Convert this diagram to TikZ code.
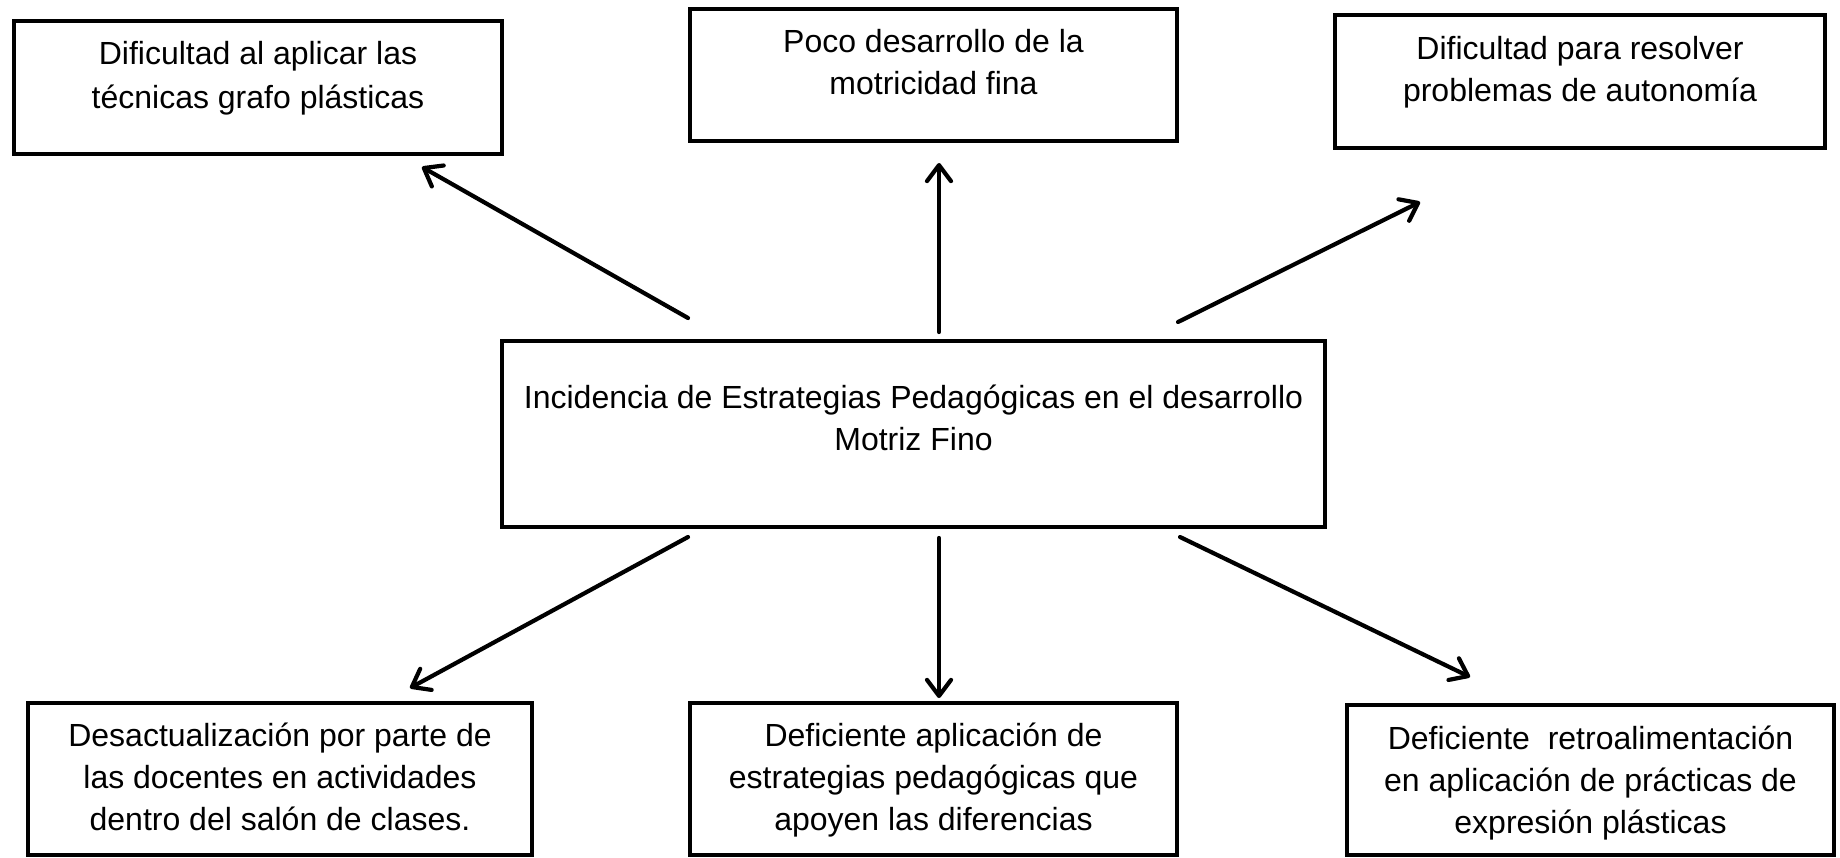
\documentclass[tikz,border=0pt]{standalone}
\usepackage{fontspec}
\setmainfont{Liberation Sans}
\usetikzlibrary{arrows.meta,shadows}

\tikzset{
  caja/.style={draw, line width=2.25pt, fill=white, inner sep=0pt,
    drop shadow={shadow xshift=1pt, shadow yshift=-1pt, opacity=0.25}},
  texto/.style={align=center, inner sep=0pt, anchor=north, font=\fontsize{16}{21}\selectfont},
  flecha/.style={line width=2.1pt, line cap=round, -{Straight Barb[length=8pt,width=12pt,round]}}
}

\begin{document}
\begin{tikzpicture}[x=0.5pt, y=-0.5pt]
    \useasboundingbox (0,0) rectangle (1840,857);

    % Cajas
    \node[caja, minimum width=244pt, minimum height=66.5pt] (tl) at (258,87.5) {};
    \node[caja, minimum width=243.5pt, minimum height=66pt] (tm) at (933.5,75) {};
    \node[caja, minimum width=245pt, minimum height=66.5pt] (tr) at (1580,81.5) {};
    \node[caja, minimum width=411.5pt, minimum height=93pt] (centro) at (913.5,434) {};
    \node[caja, minimum width=252pt, minimum height=76pt] (bl) at (280,779) {};
    \node[caja, minimum width=243.5pt, minimum height=76pt] (bm) at (933.5,779) {};
    \node[caja, minimum width=243.5pt, minimum height=75pt] (br) at (1590.5,780) {};

    % Textos
    \node[texto, yshift=-11.3pt, font=\fontsize{16}{22}\selectfont] (tx-tl) at (tl.north) {Dificultad al aplicar las\\técnicas grafo plásticas};
    \node[texto, yshift=-11pt] (tx-tm) at (tm.north) {Poco desarrollo de la\\motricidad fina};
    \node[texto, yshift=-11.6pt] (tx-tr) at (tr.north) {Dificultad para resolver\\problemas de autonomía};
    \node[texto, yshift=-23pt] (tx-centro) at (centro.north) {Incidencia de Estrategias Pedagógicas en el desarrollo\\Motriz Fino};
    \node[texto, yshift=-11pt] (tx-bl) at (bl.north) {Desactualización por parte de\\las docentes en actividades\\dentro del salón de clases.};
    \node[texto, yshift=-11pt] (tx-bm) at (bm.north) {Deficiente aplicación de\\estrategias pedagógicas que\\apoyen las diferencias};
    \node[texto, yshift=-11.5pt] (tx-br) at (br.north) {Deficiente~ retroalimentación\\en aplicación de prácticas de\\expresión plásticas};

    % Extremos de las flechas
    \coordinate (s-tl) at (688,318);
    \coordinate (p-tl) at (422,167);
    \coordinate (s-tm) at (939,332);
    \coordinate (p-tm) at (939,163);
    \coordinate (s-tr) at (1178,322);
    \coordinate (p-tr) at (1420,202);
    \coordinate (s-bl) at (688,537);
    \coordinate (p-bl) at (410,688);
    \coordinate (s-bm) at (939,538);
    \coordinate (p-bm) at (939,698);
    \coordinate (s-br) at (1180,537);
    \coordinate (p-br) at (1470,677);

    % Flechas
    \draw[flecha] (s-tl) -- (p-tl);
    \draw[flecha] (s-tm) -- (p-tm);
    \draw[flecha] (s-tr) -- (p-tr);
    \draw[flecha] (s-bl) -- (p-bl);
    \draw[flecha] (s-bm) -- (p-bm);
    \draw[flecha] (s-br) -- (p-br);
\end{tikzpicture}
\end{document}
